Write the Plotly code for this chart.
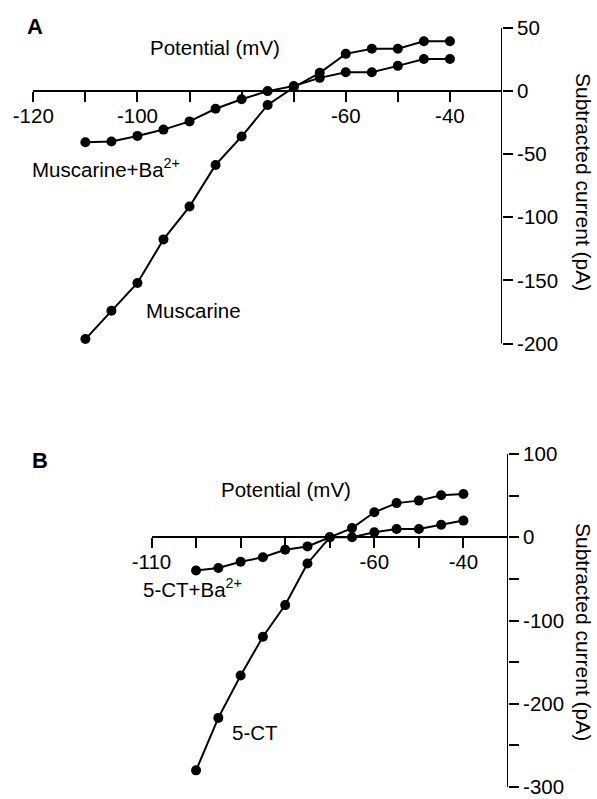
import plotly.graph_objects as go

# ---------------- data ----------------
potential_A = [-110, -105, -100, -95, -90, -85, -80, -75, -70, -65, -60, -55, -50, -45, -40]
muscarine = [-196.5, -174, -152, -117.5, -91.5, -58.5, -36, -11, 3, 14.5, 29.5, 33.5, 33.5, 39.5, 39.5]
muscarine_ba = [-40.5, -40, -35.5, -30.5, -24, -14, -6.5, 0, 4, 10.5, 15, 15, 20, 25.5, 25.5]

potential_B = [-100, -95, -90, -85, -80, -75, -70, -65, -60, -55, -50, -45, -40]
ct5 = [-280, -217, -166, -119.5, -81.5, -31.5, 0, 11, 30, 41, 44, 50.5, 52]
ct5_ba = [-40, -37, -29.5, -24, -15, -11, 0, 0, 6, 10, 10, 15, 20]

xticks_A = [-120, -100, -60, -40]
xminor_A = [-110, -90, -80, -70, -50]
yticks_A = [50, 0, -50, -100, -150, -200]

xticks_B = [-110, -60, -40]
xminor_B = [-100, -90, -80, -70, -50]
yticks_B = [100, 0, -100, -200, -300]
yminor_B = [50, -50, -150, -250]

# ---------------- layout helpers ----------------
W, H = 597, 799
FONT = "Liberation Sans, Arial, Helvetica, sans-serif"
FS = 20.5


def px(x):
    return x / W


def py(y):
    return 1 - y / H


def axis_geom(p_lo, p_hi, v_lo, v_hi, pad):
    """pixel positions p_lo/p_hi of values v_lo/v_hi; extend range by pad (data units)."""
    scale = (p_hi - p_lo) / (v_hi - v_lo)
    return (p_lo - pad * scale, p_hi + pad * scale), [v_lo - pad, v_hi + pad]


# panel A geometry (pixels)
xA_dom = [px(33.3), px(502)]
xA_rng = [-120, -30]
(yA_lo, yA_hi), yA_rng = axis_geom(343.5, 28, -200, 50, 0.6)
yA_dom = [py(yA_lo), py(yA_hi)]
# panel B geometry
xB_dom = [px(151.5), px(508)]
xB_rng = [-110, -30]
(yB_lo, yB_hi), yB_rng = axis_geom(787, 454, -300, 100, 0.8)
yB_dom = [py(yB_lo), py(yB_hi)]


def zero_pos(dom, rng):
    return dom[0] + (0 - rng[0]) / (rng[1] - rng[0]) * (dom[1] - dom[0])


def neg(v):
    return str(v)


fig = go.Figure()

line = dict(color="black", width=2)
marker = dict(color="black", size=10)

for xs, ys, xa, ya in [
    (potential_A, muscarine, "x", "y"),
    (potential_A, muscarine_ba, "x", "y"),
    (potential_B, ct5, "x2", "y2"),
    (potential_B, ct5_ba, "x2", "y2"),
]:
    fig.add_trace(go.Scatter(x=xs, y=ys, mode="lines+markers", line=line, marker=marker,
                             xaxis=xa, yaxis=ya, cliponaxis=False, showlegend=False,
                             hoverinfo="skip"))

tickfont = dict(family=FONT, size=FS, color="black")
minor_t = dict(ticks="outside", ticklen=10, tickwidth=2, tickcolor="black", showgrid=False)

common_x = dict(showline=True, linecolor="black", linewidth=2, ticks="outside", ticklen=10,
                tickwidth=2, tickcolor="black", showgrid=False, zeroline=False,
                tickfont=tickfont, tickmode="array", side="bottom", anchor="free",
                automargin=False, ticklabeloverflow="allow", ticklabelstandoff=-4)
common_y = dict(showline=False, ticks="outside", ticklen=10,
                tickwidth=2, tickcolor="black", showgrid=False, zeroline=False,
                tickfont=tickfont, tickmode="array", side="right", automargin=False,
                ticklabeloverflow="allow")

fig.update_layout(
    width=W, height=H,
    margin=dict(l=0, r=0, t=0, b=0),
    paper_bgcolor="white", plot_bgcolor="white",
    font=dict(family=FONT, size=FS, color="black"),
    hovermode=False,
    xaxis=dict(common_x, domain=xA_dom, range=xA_rng, tickvals=xticks_A,
               ticktext=[neg(v) for v in xticks_A],
               minor=dict(minor_t, tickvals=xminor_A),
               position=zero_pos(yA_dom, yA_rng)),
    yaxis=dict(common_y, domain=yA_dom, range=yA_rng, tickvals=yticks_A,
               ticktext=[neg(v) for v in yticks_A], anchor="x"),
    xaxis2=dict(common_x, domain=xB_dom, range=xB_rng, tickvals=xticks_B,
                ticktext=[neg(v) for v in xticks_B],
                minor=dict(minor_t, tickvals=xminor_B),
                position=zero_pos(yB_dom, yB_rng)),
    yaxis2=dict(common_y, domain=yB_dom, range=yB_rng, tickvals=yticks_B,
                ticktext=[neg(v) for v in yticks_B],
                minor=dict(minor_t, tickvals=yminor_B), anchor="x2"),
)

# vertical axis lines drawn exactly from top tick to bottom tick (data coordinates)
fig.add_shape(type="line", xref="x", yref="y", x0=xA_rng[1], x1=xA_rng[1],
              y0=yticks_A[-1], y1=yticks_A[0], line=dict(color="black", width=2))
fig.add_shape(type="line", xref="x2", yref="y2", x0=xB_rng[1], x1=xB_rng[1],
              y0=yticks_B[-1], y1=yticks_B[0], line=dict(color="black", width=2))


def ann(text, x, y, xanchor="center", size=FS, bold=False, angle=0):
    fig.add_annotation(text=f"<b>{text}</b>" if bold else text, x=px(x), y=py(y),
                       xref="paper", yref="paper", xanchor=xanchor, yanchor="middle",
                       showarrow=False, textangle=angle,
                       font=dict(family=FONT, size=size, color="black"))


# panel A texts
ann("A", 35, 26, size=22, bold=True)
ann("Potential (mV)", 215, 47)
ann("Muscarine+Ba<sup>2+</sup>", 30, 168, xanchor="left")
ann("Muscarine", 144, 310, xanchor="left")
ann("Subtracted current (pA)", 584, 182, size=21, angle=90)

# panel B texts
ann("B", 40, 460, size=22, bold=True)
ann("Potential (mV)", 286, 489)
ann("5-CT+Ba<sup>2+</sup>", 141, 588, xanchor="left")
ann("5-CT", 230, 732, xanchor="left")
ann("Subtracted current (pA)", 584, 632, size=21, angle=90)

fig.write_html(
    "out.html",
    config={"displayModeBar": False, "staticPlot": True},
    post_script="document.body.style.margin='0';document.body.style.overflow='hidden';",
)
